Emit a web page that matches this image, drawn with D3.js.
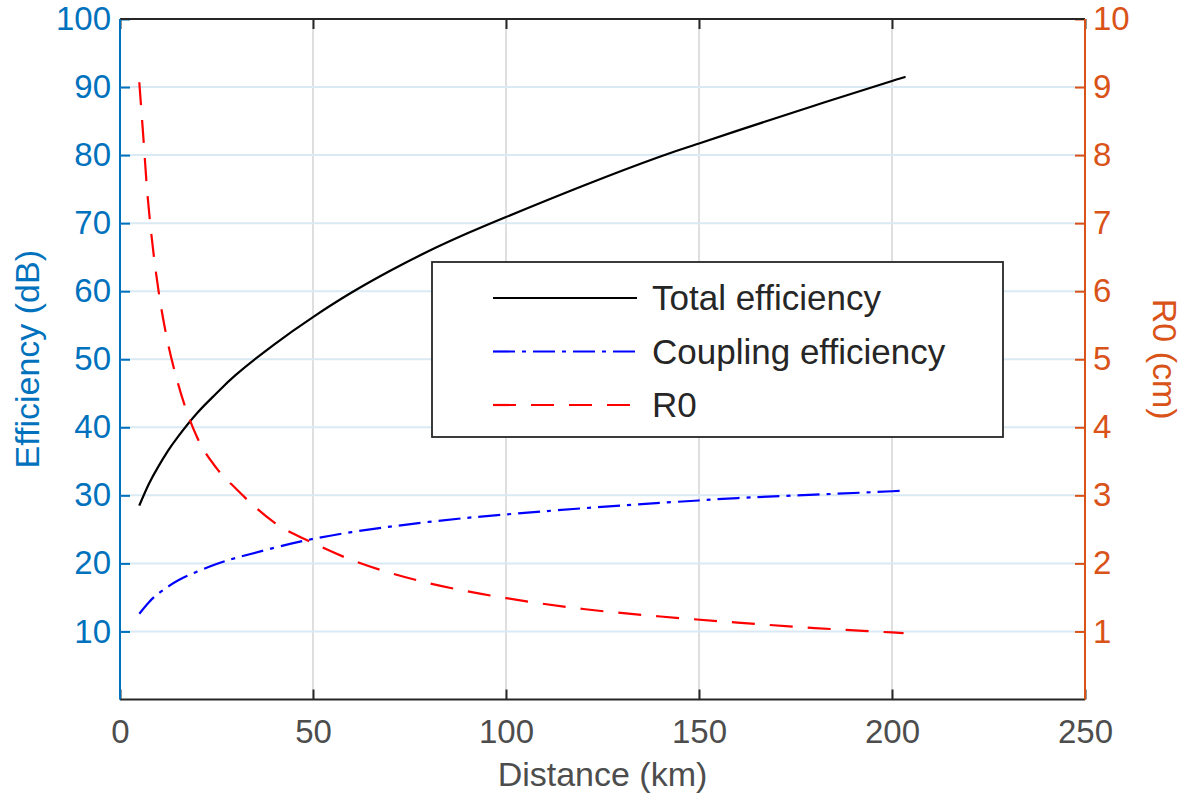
<!DOCTYPE html>
<html>
<head>
<meta charset="utf-8">
<script src="https://cdn.jsdelivr.net/npm/d3@7"></script>
<style>
  html, body { margin: 0; padding: 0; background: #fff; }
  svg { display: block; font-family: "Liberation Sans", Arial, Helvetica, sans-serif; }
</style>
</head>
<body>
<svg id="chart" width="1193" height="803"></svg>
<script>
// ---- Data ----
const distanceEff = [5, 7.5, 10, 12.5, 15, 20, 25, 30, 40, 50, 60, 70, 80, 90, 100, 120, 140, 150, 160, 180, 200, 203];
const totalEfficiency = [28.5, 31.7, 34.3, 36.6, 38.6, 42.1, 45.0, 47.7, 52.2, 56.2, 59.8, 63.0, 65.9, 68.5, 70.9, 75.5, 79.8, 81.7, 83.6, 87.3, 90.9, 91.4];
const couplingEfficiency = [12.6, 14.3, 15.6, 16.6, 17.5, 18.8, 19.9, 20.8, 22.3, 23.6, 24.6, 25.4, 26.1, 26.7, 27.2, 28.1, 28.9, 29.25, 29.6, 30.1, 30.6, 30.7];
const distanceR0 = [5, 6, 7, 8, 10, 12, 15, 20, 25, 30, 40, 50, 60, 70, 80, 90, 100, 120, 140, 160, 180, 200, 203];
const r0 = [9.07, 8.3, 7.5, 6.9, 6.0, 5.35, 4.65, 3.85, 3.4, 3.1, 2.6, 2.3, 2.05, 1.86, 1.71, 1.59, 1.49, 1.33, 1.22, 1.13, 1.05, 0.985, 0.975];
const xTicks = [0, 50, 100, 150, 200, 250];
const yLeftTicks = [10, 20, 30, 40, 50, 60, 70, 80, 90, 100];
const yRightTicks = [1, 2, 3, 4, 5, 6, 7, 8, 9, 10];
const legendLabels = ["Total efficiency", "Coupling efficiency", "R0"];

// ---- Layout ----
const W = 1193, H = 803;
const m = { left: 120, top: 19, right: 108, bottom: 103.5 };
const pw = W - m.left - m.right, ph = H - m.top - m.bottom;
const blue = "#0072BD", orange = "#D95319", dark = "#262626", tickGray = "#4d4d4d";
const fontSize = 33;

const svg = d3.select("#chart");
const g = svg.append("g").attr("transform", `translate(${m.left},${m.top})`);

const x = d3.scaleLinear().domain([0, 250]).range([0, pw]);
const yL = d3.scaleLinear().domain([0, 100]).range([ph, 0]);
const yR = d3.scaleLinear().domain([0, 10]).range([ph, 0]);

// grid
g.append("g").selectAll("line").data(xTicks.filter(d => d > 0 && d < 250)).join("line")
  .attr("x1", d => x(d)).attr("x2", d => x(d)).attr("y1", 0).attr("y2", ph)
  .attr("stroke", "#dfdfdf").attr("stroke-width", 2);
g.append("g").selectAll("line").data(yLeftTicks.filter(d => d < 100)).join("line")
  .attr("x1", 0).attr("x2", pw).attr("y1", d => yL(d)).attr("y2", d => yL(d))
  .attr("stroke", "#d9eaf5").attr("stroke-width", 2);

// axes
function styleAxis(sel, color, textColor) {
  sel.select(".domain").remove();
  sel.selectAll(".tick line").attr("stroke", color).attr("stroke-width", 2);
  sel.selectAll(".tick text").attr("fill", textColor).style("font-size", fontSize + "px");
}
const xBottom = g.append("g").attr("transform", `translate(0,${ph})`)
  .call(d3.axisBottom(x).tickValues(xTicks).tickSize(-10).tickPadding(20));
styleAxis(xBottom, dark, tickGray);
xBottom.selectAll(".tick text").attr("dy", "0.72em");
const xTop = g.append("g")
  .call(d3.axisTop(x).tickValues(xTicks).tickSize(-10).tickFormat(""));
styleAxis(xTop, dark, tickGray);

const yLeftAxis = g.append("g")
  .call(d3.axisLeft(yL).tickValues(yLeftTicks).tickSize(-10).tickPadding(9));
styleAxis(yLeftAxis, blue, blue);
const yRightAxis = g.append("g").attr("transform", `translate(${pw},0)`)
  .call(d3.axisRight(yR).tickValues(yRightTicks).tickSize(-10).tickPadding(8));
styleAxis(yRightAxis, orange, orange);

// box lines
g.append("line").attr("x1", 0).attr("x2", pw).attr("y1", 0).attr("y2", 0).attr("stroke", dark).attr("stroke-width", 2);
g.append("line").attr("x1", 0).attr("x2", pw).attr("y1", ph).attr("y2", ph).attr("stroke", dark).attr("stroke-width", 2);
g.append("line").attr("x1", 0).attr("x2", 0).attr("y1", 0).attr("y2", ph).attr("stroke", blue).attr("stroke-width", 2);
g.append("line").attr("x1", pw).attr("x2", pw).attr("y1", 0).attr("y2", ph).attr("stroke", orange).attr("stroke-width", 2);

// lines
const lineL = d3.line().x(d => x(d[0])).y(d => yL(d[1])).curve(d3.curveNatural);
const lineR = d3.line().x(d => x(d[0])).y(d => yR(d[1])).curve(d3.curveMonotoneX);
const series = [
  { label: legendLabels[0], path: lineL(d3.zip(distanceEff, totalEfficiency)), color: "#000000", dash: null },
  { label: legendLabels[1], path: lineL(d3.zip(distanceEff, couplingEfficiency)), color: "#0000ff", dash: "22,7,4,7" },
  { label: legendLabels[2], path: lineR(d3.zip(distanceR0, r0)), color: "#ff0000", dash: "23,15" }
];
g.append("g").selectAll("path").data(series).join("path")
  .attr("d", d => d.path).attr("fill", "none").attr("stroke", d => d.color)
  .attr("stroke-width", 2.2).attr("stroke-dasharray", d => d.dash);

// axis labels
svg.append("text").attr("x", m.left + pw / 2).attr("y", 786)
  .attr("text-anchor", "middle").attr("fill", tickGray).style("font-size", "34px").text("Distance (km)");
svg.append("text").attr("transform", `translate(39,${m.top + ph / 2}) rotate(-90)`)
  .attr("text-anchor", "middle").attr("fill", blue).style("font-size", "34px").text("Efficiency (dB)");
svg.append("text").attr("transform", `translate(1153,${m.top + ph / 2}) rotate(90)`)
  .attr("text-anchor", "middle").attr("fill", orange).style("font-size", "34px").text("R0 (cm)");

// legend
const lg = svg.append("g").attr("transform", "translate(432,262)");
lg.append("rect").attr("width", 571).attr("height", 175).attr("fill", "#fff")
  .attr("stroke", dark).attr("stroke-width", 1.8);
const items = lg.selectAll("g.item").data(series).join("g").attr("class", "item")
  .attr("transform", (d, i) => `translate(0,${36 + i * 53.5})`);
items.append("line").attr("x1", 61).attr("x2", 205).attr("y1", 0).attr("y2", 0)
  .attr("stroke", d => d.color).attr("stroke-width", 2.2).attr("stroke-dasharray", d => d.dash);
items.append("text").attr("x", 220).attr("y", 0).attr("dy", "0.35em")
  .attr("fill", dark).style("font-size", "35px").text(d => d.label);
</script>
</body>
</html>
